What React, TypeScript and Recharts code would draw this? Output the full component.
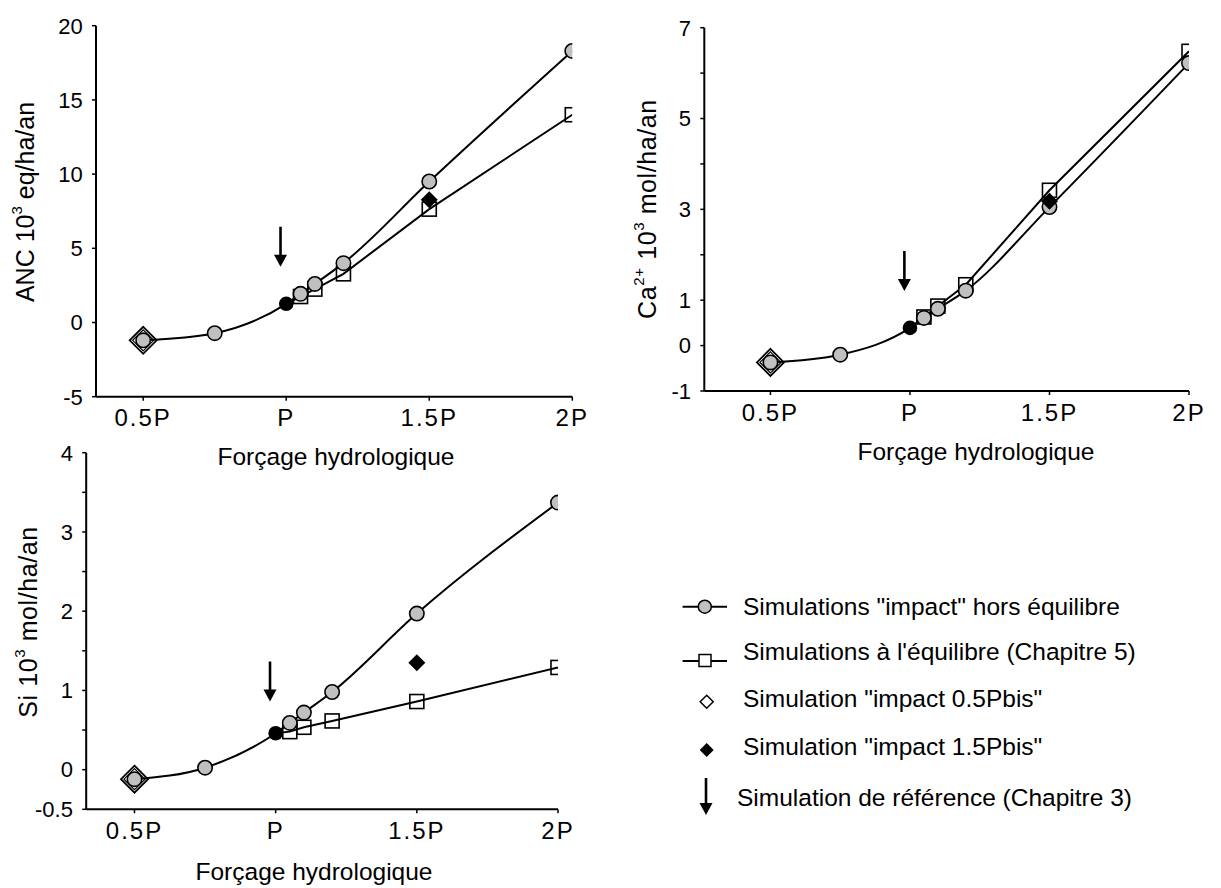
import React from 'react';
import { ComposedChart, Line, Scatter, XAxis, YAxis, Legend } from 'recharts';

const FONT = '"Liberation Sans", Arial, Helvetica, sans-serif';

// Hydrological forcing (in units of P)
const forcing = [0.5, 0.75, 1, 1.05, 1.1, 1.2, 1.5, 2];
const equilForcing = [1, 1.05, 1.1, 1.2, 1.5, 2];
const xTicks = [0.5, 1, 1.5, 2];
const xTickLabels = ['0.5P', 'P', '1.5P', '2P'];
const refForcing = 1;
const arrowForcing = 0.98;
const bisForcing = [0.5, 1.5];

// ANC 10^3 eq/ha/an
const ancImpact = [-1.2, -0.72, 1.26, 1.93, 2.6, 4.0, 9.5, 18.3];
const ancEquil = [1.26, 1.75, 2.25, 3.28, 7.64, 14.0];
const ancBis = [-1.2, 8.27];
const ancRef = 1.26;
const ancArrowTip = 3.75;
const ancTicks = [-5, 0, 5, 10, 15, 20];
const ancTickLabels = ['-5', '0', '5', '10', '15', '20'];

// Ca2+ 10^3 mol/ha/an
const caImpact = [-0.37, -0.2, 0.39, 0.61, 0.81, 1.21, 3.05, 6.22];
const caEquil = [0.39, 0.63, 0.87, 1.34, 3.42, 6.48];
const caBis = [-0.37, 3.18];
const caRef = 0.39;
const caArrowTip = 1.2;
const caTicks = [-1, 0, 1, 2, 3, 4, 5, 6, 7];
const caTickLabels = ['-1', '0', '1', '', '3', '', '5', '', '7'];

// Si 10^3 mol/ha/an
const siImpact = [-0.12, 0.025, 0.46, 0.59, 0.72, 0.98, 1.97, 3.37];
const siEquil = [0.46, 0.48, 0.535, 0.615, 0.86, 1.29];
const siBis = [-0.12, 1.35];
const siRef = 0.46;
const siArrowTip = 0.86;
const siTicks = [-0.5, 0, 0.5, 1, 1.5, 2, 2.5, 3, 3.5, 4];
const siTickLabels = ['-0.5', '0', '', '1', '', '2', '', '3', '', '4'];

const legendLabels = [
  'Simulations "impact" hors équilibre',
  "Simulations à l'équilibre (Chapitre 5)",
  'Simulation "impact 0.5Pbis"',
  'Simulation "impact 1.5Pbis"',
  'Simulation de référence (Chapitre 3)',
];

const diamondPts = (cx: number, cy: number, h: number) =>
  `${cx},${cy - h} ${cx + h},${cy} ${cx},${cy + h} ${cx - h},${cy}`;

const circleDot = (p: any) => {
  if (p.payload && p.payload.x === refForcing) return <g key={`c${p.index}`} />;
  return (
    <circle key={`c${p.index}`} cx={p.cx} cy={p.cy} r={7.2} fill="#c0c0c0" stroke="#000" strokeWidth={1.6} />
  );
};

const squareDot = (p: any) => {
  if (p.payload && p.payload.x === refForcing) return <g key={`s${p.index}`} />;
  return (
    <rect key={`s${p.index}`} x={p.cx - 7} y={p.cy - 7} width={14} height={14} fill="none" stroke="#000" strokeWidth={1.6} />
  );
};

const openDiamond = (p: any) => (
  <g>
    <polygon points={diamondPts(p.cx, p.cy, 13.5)} fill="none" stroke="#000" strokeWidth={1.8} />
    <polygon points={diamondPts(p.cx, p.cy, 10.5)} fill="none" stroke="#000" strokeWidth={1.2} />
  </g>
);

const blackDiamond = (p: any) => <polygon points={diamondPts(p.cx, p.cy, 8.5)} fill="#000" />;

const blackCircle = (p: any) => <circle cx={p.cx} cy={p.cy} r={7.3} fill="#000" />;

const arrowShape = (p: any) => (
  <g>
    <line x1={p.cx} y1={p.cy - 40} x2={p.cx} y2={p.cy - 11} stroke="#000" strokeWidth={2.6} />
    <polygon points={`${p.cx - 6.5},${p.cy - 12} ${p.cx + 6.5},${p.cy - 12} ${p.cx},${p.cy}`} fill="#000" />
  </g>
);

const xTitleStyle = { fontFamily: FONT, fontSize: 24.5, fill: '#000' };
const yTitleStyle = { fontFamily: FONT, fontSize: 25, fill: '#000' };

type PanelProps = {
  left: number;
  top: number;
  width: number;
  height: number;
  plotLeft: number;
  plotTop: number;
  plotRight: number;
  plotBottom: number;
  xMin: number;
  yDomain: [number, number];
  yTicks: number[];
  yTickLabels: string[];
  impact: number[];
  equil: number[];
  bis: number[];
  refVal: number;
  arrowTip: number;
  xTitlePos: [number, number];
  yTitlePos: [number, number];
  yTitle: React.ReactNode;
  yTitleSpacing?: number;
  children?: React.ReactNode;
};

function Panel(props: PanelProps) {
  const {
    left, top, width, height, plotLeft, plotTop, plotRight, plotBottom, xMin, yDomain, yTicks, yTickLabels,
    impact, equil, bis, refVal, arrowTip, xTitlePos, yTitlePos, yTitle, yTitleSpacing, children,
  } = props;
  const impactData = forcing.map((x, i) => ({ x, y: impact[i] }));
  const equilData = equilForcing.map((x, i) => ({ x, y: equil[i] }));
  const bis05Data = [{ x: bisForcing[0], y: bis[0] }];
  const bis15Data = [{ x: bisForcing[1], y: bis[1] }];
  const refData = [{ x: refForcing, y: refVal }];
  const arrowData = [{ x: arrowForcing, y: arrowTip }];
  return (
    <div style={{ position: 'absolute', left, top }}>
      <ComposedChart
        width={width}
        height={height}
        margin={{ top: plotTop, right: width - plotRight, left: 0, bottom: 0 }}
      >
        <XAxis
          type="number"
          dataKey="x"
          domain={[xMin, 2]}
          allowDataOverflow
          ticks={xTicks}
          interval={0}
          tickFormatter={(v: number) => xTickLabels[xTicks.indexOf(v)] ?? ''}
          height={height - plotBottom}
          axisLine={{ stroke: '#000', strokeWidth: 2 }}
          tickLine={{ stroke: '#000', strokeWidth: 1.5 }}
          tickSize={4}
          tickMargin={8.6}
          tick={{ fill: '#000', fontSize: 24, fontFamily: FONT, letterSpacing: 2 }}
          label={{
            content: () => (
              <text x={xTitlePos[0]} y={xTitlePos[1]} textAnchor="middle" dominantBaseline="central" style={xTitleStyle}>
                Forçage hydrologique
              </text>
            ),
          }}
        />
        <YAxis
          type="number"
          domain={yDomain}
          allowDataOverflow
          ticks={yTicks}
          interval={0}
          tickFormatter={(v: number) => yTickLabels[yTicks.indexOf(v)] ?? ''}
          width={plotLeft}
          axisLine={{ stroke: '#000', strokeWidth: 2 }}
          tickLine={{ stroke: '#000', strokeWidth: 1.5 }}
          tickSize={4}
          tickMargin={9.3}
          tick={{ fill: '#000', fontSize: 22, fontFamily: FONT }}
          label={{
            content: () => (
              <text
                x={yTitlePos[0]}
                y={yTitlePos[1]}
                textAnchor="middle"
                dominantBaseline="central"
                transform={`rotate(-90, ${yTitlePos[0]}, ${yTitlePos[1]})`}
                style={{ ...yTitleStyle, letterSpacing: yTitleSpacing ?? 0 }}
              >
                {yTitle}
              </text>
            ),
          }}
        />
        <Line data={equilData} dataKey="y" type="linear" stroke="#000" strokeWidth={2} dot={squareDot} activeDot={false} isAnimationActive={false} />
        <Line data={impactData} dataKey="y" type="monotone" stroke="#000" strokeWidth={2} dot={circleDot} activeDot={false} isAnimationActive={false} />
        <Scatter data={bis05Data} dataKey="y" shape={openDiamond} isAnimationActive={false} />
        <Scatter data={bis15Data} dataKey="y" shape={blackDiamond} isAnimationActive={false} />
        <Scatter data={refData} dataKey="y" shape={blackCircle} isAnimationActive={false} />
        <Scatter data={arrowData} dataKey="y" shape={arrowShape} isAnimationActive={false} />
        {children}
      </ComposedChart>
    </div>
  );
}

const legendTextStyle = { fontFamily: FONT, fontSize: 24.5, fill: '#000' };

const LegendContent = () => (
  <svg width={581} height={250} style={{ display: 'block' }}>
    <line x1={42.6} x2={87} y1={36.7} y2={36.7} stroke="#000" strokeWidth={2} />
    <circle cx={64.8} cy={36.7} r={6.5} fill="#c0c0c0" stroke="#000" strokeWidth={1.5} />
    <text x={103} y={36} dominantBaseline="central" style={legendTextStyle}>{legendLabels[0]}</text>

    <line x1={42.6} x2={87} y1={91} y2={91} stroke="#000" strokeWidth={2} />
    <rect x={59} y={84.5} width={12} height={12} fill="#fff" stroke="#000" strokeWidth={1.5} />
    <text x={103} y={81.7} dominantBaseline="central" style={legendTextStyle}>{legendLabels[1]}</text>

    <polygon points={diamondPts(66.7, 131.7, 6.5)} fill="#fff" stroke="#000" strokeWidth={1.5} />
    <text x={103} y={128} dominantBaseline="central" style={legendTextStyle}>{legendLabels[2]}</text>

    <polygon points={diamondPts(66.7, 180, 7)} fill="#000" />
    <text x={103} y={176.7} dominantBaseline="central" style={legendTextStyle}>{legendLabels[3]}</text>

    <line x1={66} x2={66} y1={208} y2={234} stroke="#000" strokeWidth={2.6} />
    <polygon points={`59.5,233 72.5,233 66,245`} fill="#000" />
    <text x={97} y={227} dominantBaseline="central" style={legendTextStyle}>{legendLabels[4]}</text>
  </svg>
);

export default function App() {
  return (
    <div style={{ position: 'relative', width: 1221, height: 888, background: '#fff', overflow: 'hidden' }}>
      <style>{`body{margin:0;}`}</style>
      <Panel
        left={0}
        top={0}
        width={600}
        height={490}
        plotLeft={96}
        plotTop={25.7}
        plotRight={572.3}
        plotBottom={396.7}
        xMin={0.335}
        yDomain={[-5, 20]}
        yTicks={ancTicks}
        yTickLabels={ancTickLabels}
        impact={ancImpact}
        equil={ancEquil}
        bis={ancBis}
        refVal={ancRef}
        arrowTip={ancArrowTip}
        xTitlePos={[336, 456]}
        yTitlePos={[25, 202]}
        yTitle={<><tspan>ANC 10</tspan><tspan fontSize={15} dy={-9}>3</tspan><tspan dy={9}> eq/ha/an</tspan></>}
      />
      <Panel
        left={610}
        top={0}
        width={611}
        height={490}
        plotLeft={94.3}
        plotTop={27.7}
        plotRight={579}
        plotBottom={391}
        xMin={0.263}
        yDomain={[-1, 7]}
        yTicks={caTicks}
        yTickLabels={caTickLabels}
        impact={caImpact}
        equil={caEquil}
        bis={caBis}
        refVal={caRef}
        arrowTip={caArrowTip}
        xTitlePos={[366, 451]}
        yTitlePos={[37, 209]}
        yTitleSpacing={0.6}
        yTitle={<><tspan>Ca</tspan><tspan fontSize={15} dy={-9}>2+</tspan><tspan dy={9}> 10</tspan><tspan fontSize={15} dy={-9}>3</tspan><tspan dy={9}> mol/ha/an</tspan></>}
      />
      <Panel
        left={0}
        top={440}
        width={1221}
        height={448}
        plotLeft={86.2}
        plotTop={12.7}
        plotRight={558}
        plotBottom={369.3}
        xMin={0.329}
        yDomain={[-0.5, 4]}
        yTicks={siTicks}
        yTickLabels={siTickLabels}
        impact={siImpact}
        equil={siEquil}
        bis={siBis}
        refVal={siRef}
        arrowTip={siArrowTip}
        xTitlePos={[314, 431]}
        yTitlePos={[27.7, 182]}
        yTitleSpacing={0.6}
        yTitle={<><tspan>Si 10</tspan><tspan fontSize={15} dy={-9}>3</tspan><tspan dy={9}> mol/ha/an</tspan></>}
      >
        <Legend
          layout="horizontal"
          verticalAlign="middle"
          align="center"
          content={() => <LegendContent />}
          wrapperStyle={{ left: 640, top: 130, width: 581, height: 250 }}
        />
      </Panel>
    </div>
  );
}
